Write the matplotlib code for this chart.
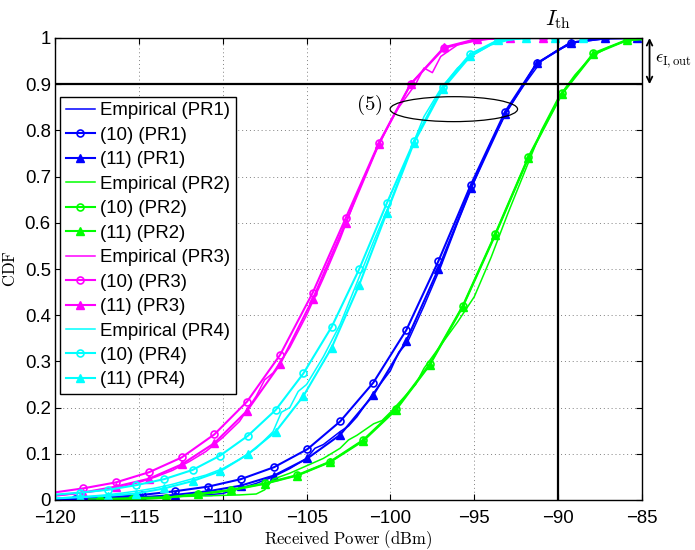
import matplotlib.pyplot as plt
from matplotlib.patches import Ellipse

plt.rcParams['mathtext.fontset'] = 'cm'
plt.rcParams['font.family'] = ['Liberation Sans', 'DejaVu Sans']

# ---- data (received power in dBm, CDF) ----

# PR1 (blue)
pr1_x = [-120.8, -118.8, -116.8, -114.8, -112.84, -110.86, -108.93, -106.94, -104.95, -103.0,
         -101.02, -99.05, -97.14, -95.21, -93.17, -91.28, -89.25, -87.2, -85.3]
pr1_eq10 = [0.001, 0.003, 0.006, 0.011, 0.019, 0.029, 0.045, 0.071, 0.11, 0.17,
            0.254, 0.368, 0.517, 0.682, 0.84, 0.945, 0.99, 0.999, 1.0]
pr1_eq11 = [0.0005, 0.001, 0.003, 0.006, 0.011, 0.019, 0.031, 0.053, 0.09, 0.141,
            0.227, 0.345, 0.50, 0.675, 0.835, 0.945, 0.99, 0.999, 1.0]
pr1_emp_x = [-121, -120, -119, -118, -117, -116, -115, -114, -113, -112, -111, -110, -109, -108,
             -107, -106, -105, -104.5, -104, -103, -102.5, -102, -101, -100, -99.5, -99, -98,
             -97, -96, -95, -94, -93, -92, -91, -90, -89, -88, -87, -86, -85]
pr1_emp = [0.001, 0.002, 0.002, 0.003, 0.004, 0.005, 0.006, 0.007, 0.008, 0.009, 0.011, 0.014,
           0.025, 0.036, 0.05, 0.068, 0.09, 0.112, 0.12, 0.148, 0.16, 0.18, 0.232, 0.28, 0.32,
           0.34, 0.42, 0.505, 0.6, 0.69, 0.775, 0.845, 0.9, 0.95, 0.975, 0.99, 0.997, 1.0, 1.0, 1.0]

# PR2 (green)
pr2_x = [-117.3, -115.4, -113.4, -111.45, -109.5, -107.5, -105.55, -103.6, -101.62, -99.67,
         -97.66, -95.69, -93.76, -91.78, -89.79, -87.9, -85.9, -83.9]
pr2_eq10 = [0.001, 0.002, 0.005, 0.013, 0.022, 0.036, 0.054, 0.083, 0.13, 0.197,
            0.294, 0.42, 0.575, 0.742, 0.88, 0.967, 0.996, 1.0]
pr2_eq11 = [0.0008, 0.002, 0.005, 0.012, 0.021, 0.035, 0.053, 0.082, 0.128, 0.195,
            0.292, 0.418, 0.573, 0.74, 0.878, 0.965, 0.995, 1.0]
pr2_emp_x = [-118, -117, -116, -115, -114, -113, -112, -111, -110, -109, -108, -107.5, -107,
             -106, -105, -104, -103, -102.5, -102, -101, -100.5, -100, -99, -98.5, -98, -97,
             -96, -95, -94, -93, -92, -91, -90, -89, -88, -87, -86, -85]
pr2_emp = [0.002, 0.003, 0.004, 0.005, 0.006, 0.007, 0.008, 0.009, 0.01, 0.011, 0.013, 0.022,
           0.045, 0.058, 0.074, 0.09, 0.112, 0.13, 0.14, 0.165, 0.172, 0.19, 0.23, 0.25, 0.285,
           0.335, 0.385, 0.44, 0.525, 0.62, 0.71, 0.8, 0.87, 0.92, 0.96, 0.98, 0.993, 1.0]

# PR3 (magenta)
pr3_x = [-120.3, -118.35, -116.38, -114.4, -112.45, -110.5, -108.55, -106.58, -104.63, -102.67,
         -100.7, -98.8, -96.8, -94.85, -92.87, -90.9]
pr3_eq10 = [0.015, 0.025, 0.038, 0.06, 0.092, 0.142, 0.213, 0.314, 0.449, 0.61,
            0.772, 0.9, 0.978, 0.997, 1.0, 1.0]
pr3_eq11 = [0.008, 0.016, 0.029, 0.046, 0.077, 0.123, 0.193, 0.294, 0.435, 0.60,
            0.77, 0.9, 0.98, 0.998, 1.0, 1.0]
pr3_emp_x = [-121, -120, -119, -118, -117, -116, -115, -114, -113, -112, -111, -110, -109,
             -108, -107.5, -107, -106, -105, -104, -103, -102, -101, -100, -99.5, -99, -98.5,
             -98, -97.5, -97, -96, -95, -94, -93, -92]
pr3_emp = [0.007, 0.01, 0.013, 0.017, 0.022, 0.029, 0.038, 0.05, 0.064, 0.083, 0.105, 0.135,
           0.17, 0.225, 0.26, 0.275, 0.33, 0.4, 0.48, 0.565, 0.66, 0.745, 0.82, 0.85, 0.875,
           0.9, 0.935, 0.925, 0.96, 0.985, 0.993, 0.998, 1.0, 1.0]

# PR4 (cyan)
pr4_x = [-120.2, -118.5, -116.86, -115.17, -113.5, -111.8, -110.16, -108.5, -106.84, -105.19,
         -103.5, -101.87, -100.22, -98.6, -96.88, -95.25, -93.6, -91.9, -90.2, -88.5]
pr4_eq10 = [0.011, 0.016, 0.022, 0.032, 0.045, 0.065, 0.096, 0.139, 0.195, 0.274,
            0.375, 0.499, 0.642, 0.776, 0.895, 0.965, 0.995, 1.0, 1.0, 1.0]
pr4_eq11 = [0.003, 0.006, 0.009, 0.014, 0.025, 0.041, 0.062, 0.099, 0.148, 0.225,
            0.33, 0.465, 0.622, 0.773, 0.89, 0.96, 0.995, 1.0, 1.0, 1.0]
pr4_emp_x = [-121, -120, -119, -118, -117, -116, -115, -114, -113, -112, -111, -110, -109,
             -108, -107, -106.5, -106, -105.5, -105, -104, -103, -102, -101, -100, -99, -98,
             -97, -96, -95, -94, -93, -92, -91]
pr4_emp = [0.002, 0.004, 0.006, 0.008, 0.011, 0.015, 0.02, 0.026, 0.034, 0.044, 0.054, 0.068,
           0.088, 0.112, 0.148, 0.19, 0.2, 0.235, 0.25, 0.31, 0.38, 0.47, 0.56, 0.645, 0.74,
           0.83, 0.89, 0.935, 0.965, 0.985, 0.995, 1.0, 1.0]

groups = [
    ('PR1', (0, 0, 1), pr1_emp_x, pr1_emp, pr1_x, pr1_eq10, pr1_eq11),
    ('PR2', (0, 1, 0), pr2_emp_x, pr2_emp, pr2_x, pr2_eq10, pr2_eq11),
    ('PR3', (1, 0, 1), pr3_emp_x, pr3_emp, pr3_x, pr3_eq10, pr3_eq11),
    ('PR4', (0, 1, 1), pr4_emp_x, pr4_emp, pr4_x, pr4_eq10, pr4_eq11),
]

x_ticks = [-120, -115, -110, -105, -100, -95, -90, -85]
y_ticks = [0, 0.1, 0.2, 0.3, 0.4, 0.5, 0.6, 0.7, 0.8, 0.9, 1]
y_tick_labels = ['0', '0.1', '0.2', '0.3', '0.4', '0.5', '0.6', '0.7', '0.8', '0.9', '1']

i_th = -90
outage_level = 0.9

# ---- figure ----
fig = plt.figure(figsize=(6.95, 5.5), dpi=100)
ax = fig.add_axes([55 / 695, 50 / 550, 587 / 695, 462 / 550])

for name, color, ex, ey, mx, y10, y11 in groups:
    ax.plot(ex, ey, color=color, linewidth=1.1, label=f'Empirical ({name})')
    ax.plot(mx, y10, color=color, linewidth=1.5, marker='o', markersize=5,
            markerfacecolor='none', markeredgewidth=1.2, label=f'(10) ({name})')
    ax.plot(mx, y11, color=color, linewidth=1.5, marker='^', markersize=5.5,
            markerfacecolor=color, label=f'(11) ({name})')

# threshold lines
ax.axhline(outage_level, color='black', linewidth=1.6, zorder=5)
ax.axvline(i_th, color='black', linewidth=1.6, zorder=5)

ax.set_xlim(-120, -85)
ax.set_ylim(0, 1)
ax.set_xticks(x_ticks)
ax.set_yticks(y_ticks)
ax.set_yticklabels(y_tick_labels)
ax.tick_params(direction='in', top=True, right=True, length=4, labelsize=13.4)
ax.tick_params(axis='x', pad=7)
ax.tick_params(axis='y', pad=3)
ax.grid(True, color='#808080', linestyle=(0, (1, 3)), linewidth=0.7)
for s in ax.spines.values():
    s.set_linewidth(1.0)

ax.set_xlabel(r'$\mathrm{Received\ Power\ (dBm)}$', fontsize=12, labelpad=1)
ax.set_ylabel(r'$\mathrm{CDF}$', fontsize=12, labelpad=5)

# annotations
ax.text(i_th, 1.015, r'$I_{\rm th}$', fontsize=16, ha='center', va='bottom')
ax.annotate('', xy=(-84.55, 1.0), xytext=(-84.55, outage_level), xycoords='data',
            arrowprops=dict(arrowstyle='<->', color='black', linewidth=1.3,
                            shrinkA=0, shrinkB=0), annotation_clip=False)
ax.text(-84.2, 0.95, r'$\epsilon_{\rm I,out}$', fontsize=13, ha='left', va='center',
        clip_on=False)
ax.add_patch(Ellipse((-96.22, 0.846), 7.6, 0.054, fill=False, edgecolor='black',
                     linewidth=0.9, zorder=6))
ax.text(-100.5, 0.855, r'$\mathrm{(5)}$', fontsize=15, ha='right', va='center')

leg = ax.legend(loc='upper left', bbox_to_anchor=(0.0085, 0.873), borderaxespad=0,
                fontsize=13.4, handlelength=1.6, handletextpad=0.25, borderpad=0.3,
                labelspacing=0.4, fancybox=False, framealpha=1, edgecolor='black')
leg.get_frame().set_linewidth(1.0)

fig.savefig('out.png', dpi=100)
